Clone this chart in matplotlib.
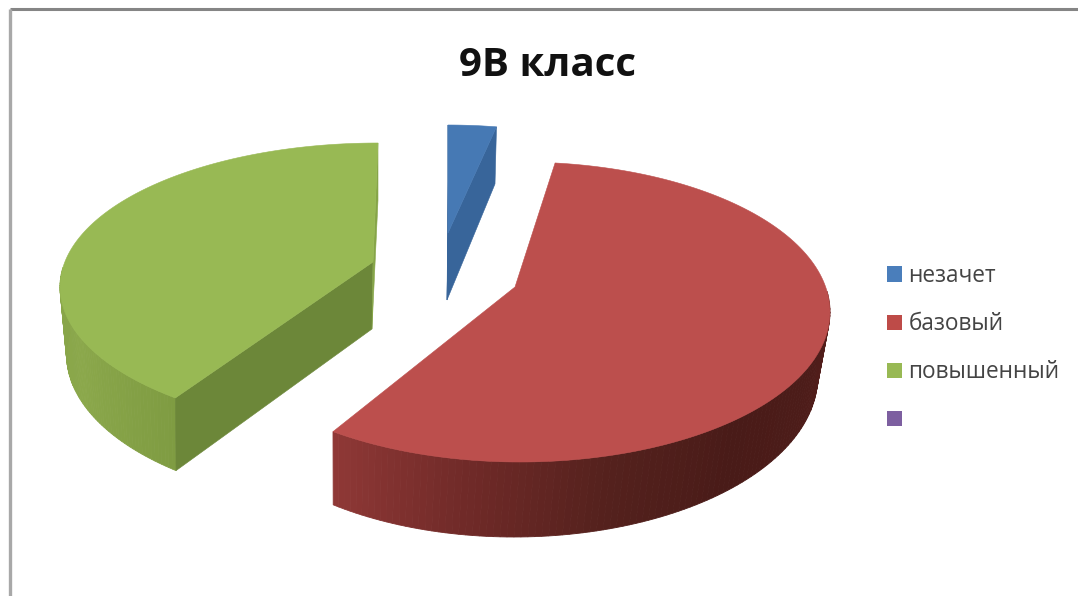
import matplotlib
matplotlib.use('Agg')
import matplotlib.pyplot as plt
import numpy as np
from matplotlib.patches import Patch, Polygon

title = '9В класс'
categories = ['незачет', 'базовый', 'повышенный', '']
values = [2.5, 58.5, 39.0, 0.0]
legend_colors = ['#4a7ebb', '#be4b48', '#98b954', '#7d5fa0']

# layout of the exploded slices, in pixels: ellipse centre, radii, apex and a small perspective turn
centers = [(448, 275), (520, 312), (378, 287)]
radii = [(310, 150), (310, 150), (318, 144)]
apexes = [(448, 233), (515, 287), (373, 262)]
turns = [0, 2.5, 0]
top_colors = ['#4679b4', '#bc4f4d', '#98b954']
# cut face at the start of the clockwise sweep, then the one at its end
start_cut_colors = ['#38659a', '#7a2e2c', '#6c8739']
end_cut_colors = ['#38659a', '#7a2e2c', '#86a548']
# rim shading from the end of the sweep back to its start
rim_stops = [
    ['#38659a', '#38659a'],
    ['#8f3836', '#702a28', '#54211d', '#491b18', '#4d1c19', '#5a211e'],
    ['#88a549', '#8ba84b', '#7f9c42'],
]
DEPTH = 66


def top_point(i, t):
    cx, cy = centers[i]
    a, b = radii[i]
    return np.array([cx + a * np.cos(t), cy - b * np.sin(t)])


def low_point(i, t):
    cx, cy = centers[i]
    a, b = radii[i]
    shift = -3 * (1 - np.sin(t))
    return np.array([cx + shift + 0.97 * a * np.cos(t), cy + DEPTH - 1.06 * b * np.sin(t)])


def area(pts):
    x, y = np.array(pts).T
    return 0.5 * np.sum(x * np.roll(y, -1) - np.roll(x, -1) * y)


def hex_rgb(c):
    return np.array(matplotlib.colors.to_rgb(c))


fig = plt.figure(figsize=(10.78, 5.96), dpi=100, facecolor='white')
ax = fig.add_axes([0, 0, 1, 1])
ax.set_xlim(0, 1078)
ax.set_ylim(596, 0)
ax.axis('off')

# frame of the chart area, cut by the picture on the right and at the bottom
ax.plot([1078, 9.5], [9, 9], color='#858585', lw=2.2, solid_capstyle='butt')
ax.plot([9.5, 9.5], [9, 596], color='#a8a8a8', lw=2.4, solid_capstyle='butt')

total = sum(values)
start = 90.0
for i, v in enumerate(values[:3]):
    sweep = 360.0 * v / total
    t0 = np.radians(start + turns[i])
    t1 = np.radians(start - sweep + turns[i])
    start -= sweep
    ts = np.linspace(t0, t1, 160)
    apex = np.array(apexes[i], dtype=float)
    apex_low = apex + [-1, 67]

    # outer wall, shaded along the arc
    stops = np.array([hex_rgb(c) for c in rim_stops[i]])
    visible = [t for t in ts if np.sin(t) < 0.15]
    for j in range(len(visible) - 1):
        frac = 1 - j / max(len(visible) - 2, 1)
        pos = np.linspace(0, 1, len(stops))
        col = [np.interp(frac, pos, stops[:, k]) for k in range(3)]
        quad = [top_point(i, visible[j]), top_point(i, visible[j + 1]),
                low_point(i, visible[j + 1]), low_point(i, visible[j])]
        ax.add_patch(Polygon(quad, closed=True, facecolor=col, edgecolor=col, lw=0.6, zorder=2))

    # the two cut faces, only where they turn towards the viewer
    near = [apex, top_point(i, t0), low_point(i, t0), apex_low]
    far = [apex, top_point(i, t1), low_point(i, t1), apex_low]
    if area(near) < 0:
        ax.add_patch(Polygon(near, closed=True, facecolor=start_cut_colors[i],
                             edgecolor=start_cut_colors[i], lw=0.4, zorder=3))
    if area(far) > 0:
        ax.add_patch(Polygon(far, closed=True, facecolor=end_cut_colors[i],
                             edgecolor=end_cut_colors[i], lw=0.4, zorder=3))

    # top face
    outline = [apex] + [top_point(i, t) for t in ts]
    ax.add_patch(Polygon(outline, closed=True, facecolor=top_colors[i], edgecolor=top_colors[i], lw=0.4, zorder=4))

ax.text(547.5, 76.5, title, fontsize=29, fontweight='bold', family='Open Sans',
        color='#111111', ha='center', va='baseline')

handles = [Patch(facecolor=c, edgecolor='none') for c in legend_colors]
leg = ax.legend(handles, categories, loc='upper left', bbox_to_anchor=(887, 264),
                bbox_transform=ax.transData, frameon=False, borderpad=0, borderaxespad=0,
                handlelength=0.66, handleheight=0.66, handletextpad=0.28, labelspacing=1.07,
                prop={'family': 'Open Sans', 'size': 16.3})
for txt in leg.get_texts():
    txt.set_color('#444444')

fig.savefig('out.png', dpi=100, facecolor='white')
